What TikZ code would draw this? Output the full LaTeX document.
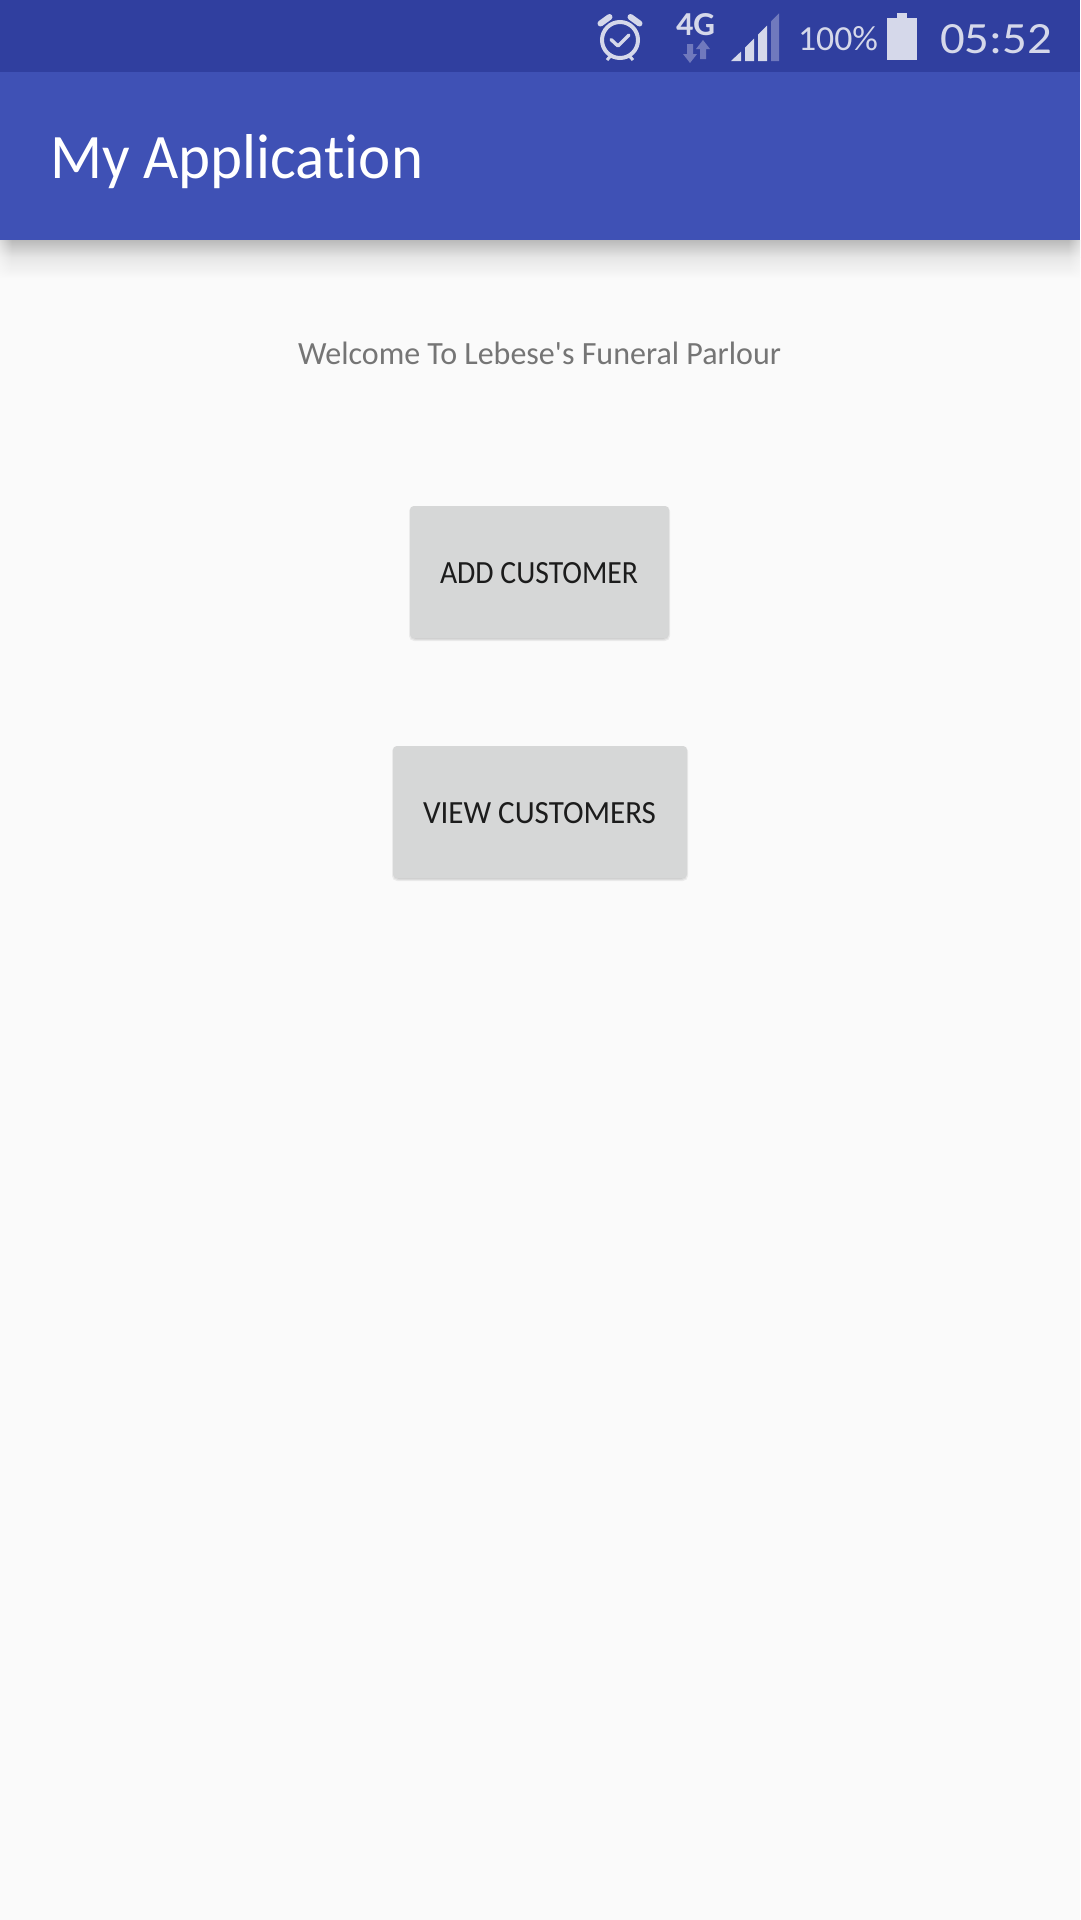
\documentclass[tikz,border=0pt]{standalone}
\usepackage{fontspec}
\newfontfamily\plainfont[Ligatures=NoCommon]{Carlito}
\usetikzlibrary{calc,fadings}
\definecolor{statusbg}{HTML}{303F9F}
\definecolor{appbg}{HTML}{3F51B5}
\definecolor{pagebg}{HTML}{FAFAFA}
\definecolor{btnbg}{HTML}{D6D7D7}
\definecolor{btntext}{HTML}{1C1C1C}
\definecolor{welcometext}{HTML}{757575}
\definecolor{iconlight}{HTML}{D5D8EA}
\definecolor{icondim}{HTML}{7079BD}
\definecolor{shadowtop}{HTML}{BABABA}
\definecolor{shadowmid}{HTML}{E6E6E6}
\newcommand{\fittext}[3]{\resizebox{#1pt}{#2pt}{#3}}
\tikzset{
  x=1pt,y=-1pt,
  label text/.style={inner sep=0pt,outer sep=0pt,anchor=base west,font=\plainfont},
  button face/.style={fill=btnbg,rounded corners=4pt,draw=none},
  button shade/.style={fill=black,fill opacity=0.06,rounded corners=5pt,draw=none},
  icon solid/.style={fill=iconlight,draw=none},
  icon dim/.style={fill=icondim,draw=none},
  icon line/.style={draw=iconlight,line width=4pt,fill=none},
}
\newcommand{\buttonshadow}[4]{%
  \foreach \g in {0,1,2}{
    \fill[button shade] (#1-\g+1,#2+2-\g) rectangle (#3+\g-1,#4+1+\g);
  }}
\begin{document}
\begin{tikzpicture}
\useasboundingbox (0,0) rectangle (1080,1920);
\fill[pagebg] (0,0) rectangle (1080,1920);
% app bar shadow
\shade[top color=shadowtop,bottom color=shadowmid] (0,240) rectangle (1080,257);
\shade[top color=shadowmid,bottom color=pagebg] (0,257) rectangle (1080,278);
\fill[pagebg,fill opacity=0.55,path fading=east] (0,240) rectangle (12,278);
\fill[pagebg,fill opacity=0.55,path fading=west] (1068,240) rectangle (1080,278);
\fill[statusbg] (0,0) rectangle (1080,72);
\fill[appbg] (0,72) rectangle (1080,240);
\node[label text,text=white] (title) at (50,178) {\fittext{373}{44}{My Application}};
\node[label text,text=welcometext] (welcome) at (298,364.5) {\fittext{483}{22.5}{Welcome To Lebese's Funeral Parlour}};
% buttons
\buttonshadow{410}{506}{669}{638}
\buttonshadow{393}{746}{687}{878}
\node[button face,minimum width=259pt,minimum height=132pt,inner sep=0pt] (addbtn) at (539.5,572) {};
\node[button face,minimum width=294pt,minimum height=132pt,inner sep=0pt] (viewbtn) at (540,812) {};
\node[label text,text=btntext] (addlabel) at (440,583) {\fittext{198}{21}{ADD CUSTOMER}};
\node[label text,text=btntext] (viewlabel) at (423,823) {\fittext{233}{21}{VIEW CUSTOMERS}};
% alarm icon
\draw[icon line] (620,40) circle (18);
\draw[icon line,line width=3.4pt,line cap=round,line join=round] (611,39.5) -- (618,46) -- (629,35);
\draw[icon line,line width=6pt,line cap=round] (600.5,23.5) -- (609.5,17);
\draw[icon line,line width=6pt,line cap=round] (639.5,23.5) -- (630.5,17);
\draw[icon line,line width=3pt] (611.5,55) -- (607,60);
\draw[icon line,line width=3pt] (628.5,55) -- (633,60);
% network icon
\node[label text,text=iconlight] (net) at (676,35) {\fittext{39}{22}{\bfseries 4G}};
\fill[icon dim] (687,44) -- (693,44) -- (693,54) -- (697,54) -- (690,63) -- (683,54) -- (687,54) -- cycle;
\fill[icon dim] (700,59) -- (706,59) -- (706,49) -- (710,49) -- (703,40) -- (696,49) -- (700,49) -- cycle;
% signal icon
\fill[icon solid] (731,61) -- (741,51.6) -- (741,61) -- cycle;
\fill[icon solid] (745,61) -- (745,47.5) -- (754,38.6) -- (754,61) -- cycle;
\fill[icon solid] (758,61) -- (758,34.5) -- (767,25.5) -- (767,61) -- cycle;
\fill[icon dim] (771,61) -- (771,21.5) -- (779,13.3) -- (779,61) -- cycle;
% battery
\node[label text,text=iconlight] (pct) at (798,50) {\fittext{80}{24}{100\%}};
\fill[icon solid] (887,18) rectangle (917,59.5);
\fill[icon solid] (897,12.5) rectangle (907,18);
% clock
\node[label text,text=iconlight] (clock) at (940,53) {\fittext{112}{29}{05:52}};
\end{tikzpicture}
\end{document}
